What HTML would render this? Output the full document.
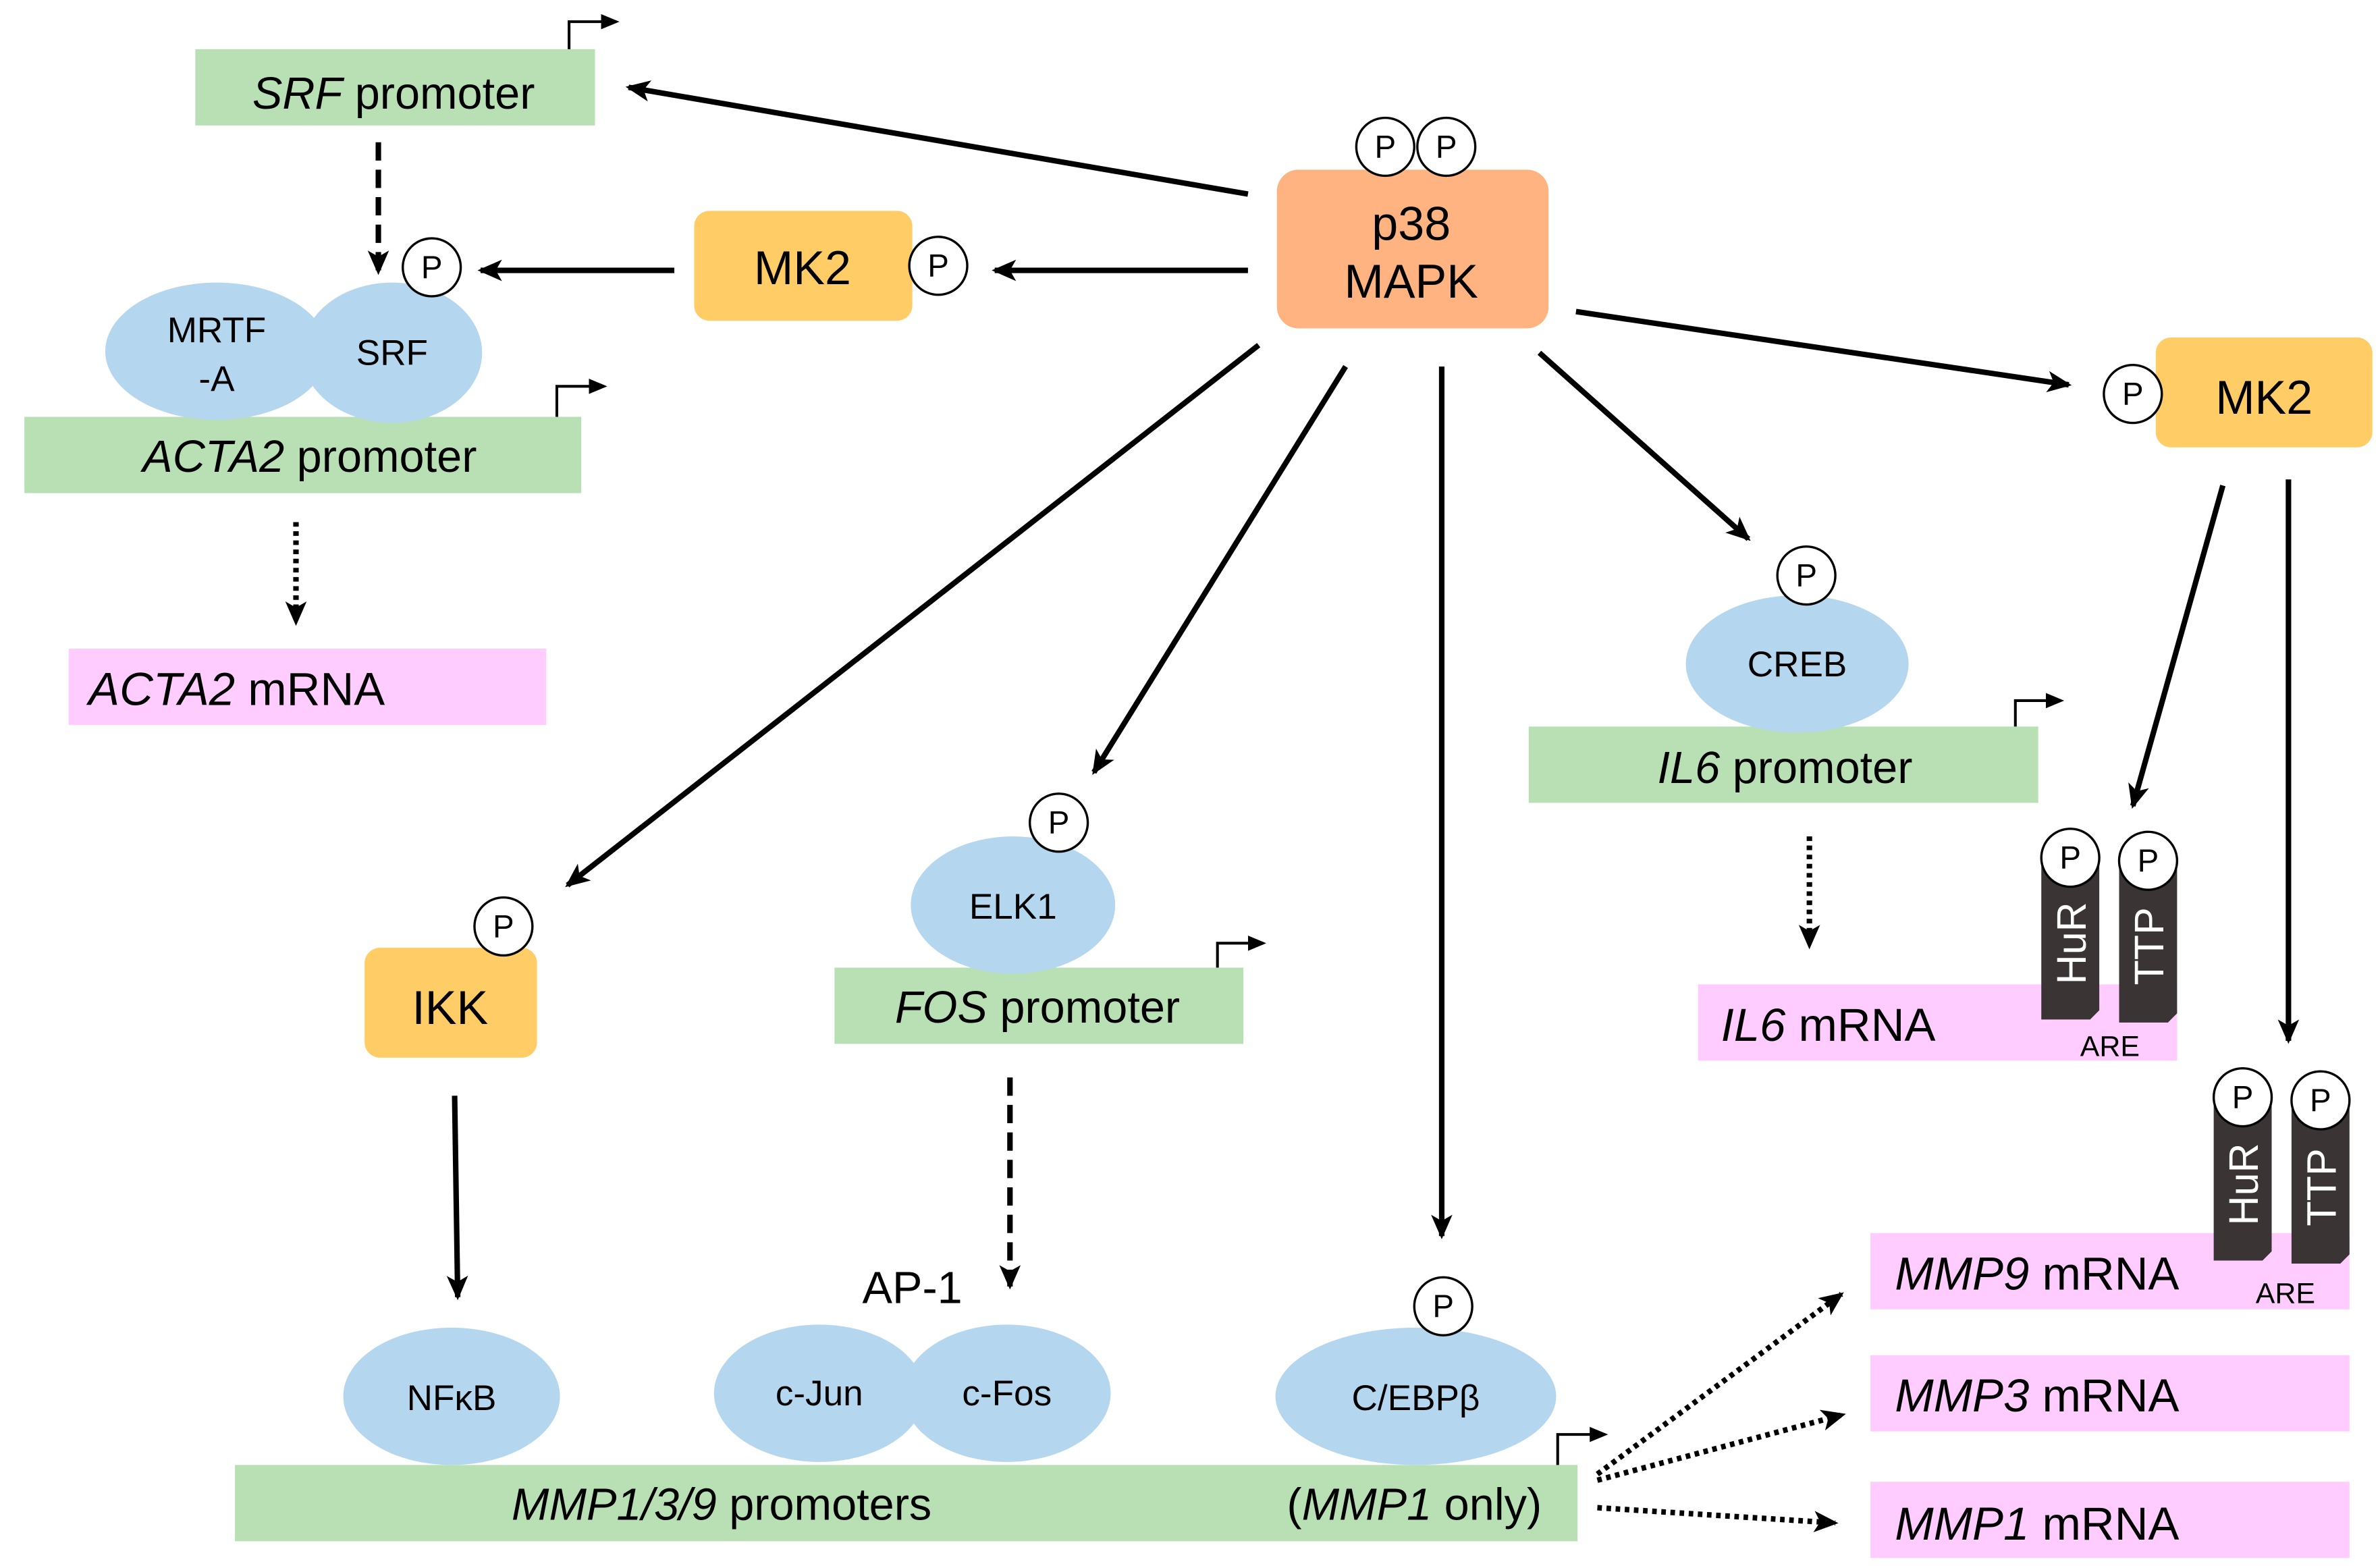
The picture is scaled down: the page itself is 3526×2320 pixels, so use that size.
<!DOCTYPE html>
<html><head><meta charset="utf-8"><style>html,body{margin:0;padding:0;background:#fff}svg{display:block}</style></head>
<body>
<svg width="3526" height="2320" viewBox="0 0 1560 1026" xmlns="http://www.w3.org/2000/svg" font-family="'Liberation Sans', sans-serif">
<defs>
<marker id="a" markerWidth="20" markerHeight="16" refX="14" refY="8" orient="auto" markerUnits="userSpaceOnUse"><path d="M0,1 L16,8 L0,15 L4,8 Z" fill="#000"/></marker>
<marker id="s" markerWidth="14" markerHeight="12" refX="10" refY="6" orient="auto" markerUnits="userSpaceOnUse"><path d="M0,1 L12,6 L0,11 Z" fill="#000"/></marker>
</defs>
<g fill="none" stroke="#000">
<g stroke-width="3.6" marker-end="url(#a)">
<line x1="818" y1="127" x2="412" y2="57"/>
<line x1="818" y1="177" x2="652" y2="177"/>
<line x1="442" y1="177" x2="315" y2="177"/>
<line x1="1033" y1="204" x2="1356" y2="252"/>
<line x1="1009" y1="231" x2="1146" y2="353"/>
<line x1="1457" y1="318" x2="1398" y2="528"/>
<line x1="1500" y1="314" x2="1500" y2="682"/>
<line x1="825" y1="226" x2="372" y2="580"/>
<line x1="298" y1="718" x2="300" y2="850"/>
<line x1="882" y1="240" x2="717" y2="506"/>
<line x1="945" y1="240" x2="945" y2="810"/>
</g>
<g stroke-width="3.6" stroke-dasharray="12,6" marker-end="url(#a)">
<line x1="248" y1="93" x2="248" y2="178"/>
<line x1="662" y1="706" x2="662" y2="843"/>
</g>
<g stroke-width="3.6" stroke-dasharray="3,3" marker-end="url(#a)">
<line x1="194" y1="342" x2="194" y2="408"/>
<line x1="1186" y1="548" x2="1186" y2="620"/>
<line x1="1047" y1="966" x2="1207" y2="848"/>
<line x1="1047" y1="970" x2="1208" y2="927"/>
<line x1="1047" y1="988" x2="1203" y2="998"/>
</g>
</g>
<g fill="#b9e0b5">
<rect x="128" y="32" width="262" height="50"/>
<rect x="16" y="273" width="365" height="50"/>
<rect x="1002" y="476" width="334" height="50"/>
<rect x="547" y="634" width="268" height="50"/>
<rect x="154" y="960" width="880" height="50"/>
</g>
<g fill="#ffccff">
<rect x="45" y="425" width="313" height="50"/>
<rect x="1113" y="645" width="314" height="50"/>
<rect x="1226" y="808" width="314" height="50"/>
<rect x="1226" y="888" width="314" height="50"/>
<rect x="1226" y="971" width="314" height="50"/>
</g>
<g fill="none" stroke="#000" stroke-width="1.8" marker-end="url(#s)">
<path d="M373,32 V14 H404"/>
<path d="M365,273 V253 H396"/>
<path d="M1321,476 V459 H1351"/>
<path d="M798,634 V618 H828"/>
<path d="M1021,960 V940 H1052"/>
</g>
<g fill="#ffcc66">
<rect x="455" y="138" width="143" height="72" rx="10"/>
<rect x="1413" y="221" width="142" height="72" rx="10"/>
<rect x="239" y="621" width="113" height="72" rx="10"/>
</g>
<rect x="837" y="111" width="178" height="104" rx="14" fill="#ffb380"/>
<g fill="#b4d7ef">
<ellipse cx="142" cy="230" rx="73" ry="45"/>
<ellipse cx="257" cy="231" rx="59" ry="46"/>
<ellipse cx="1178" cy="435" rx="73" ry="45"/>
<ellipse cx="664" cy="593" rx="67" ry="45"/>
<ellipse cx="296" cy="915" rx="71" ry="45"/>
<ellipse cx="537" cy="913" rx="69" ry="45"/>
<ellipse cx="660" cy="913" rx="68" ry="45"/>
<ellipse cx="928" cy="915" rx="92" ry="45"/>
</g>
<g fill="#3a3534">
<path d="M1338,562 H1376 V662 L1370,668 H1338 Z"/>
<path d="M1389,565 H1427 V664 L1421,670 H1389 Z"/>
<path d="M1451,720 H1489 V820 L1483,826 H1451 Z"/>
<path d="M1502,723 H1540 V822 L1534,828 H1502 Z"/>
</g>
<g fill="#fff" font-size="27">
<text transform="translate(1367,618) rotate(-90)" text-anchor="middle">HuR</text>
<text transform="translate(1418,620) rotate(-90)" text-anchor="middle">TTP</text>
<text transform="translate(1480,776) rotate(-90)" text-anchor="middle">HuR</text>
<text transform="translate(1531,778) rotate(-90)" text-anchor="middle">TTP</text>
</g>
<g fill="#fff" stroke="#000" stroke-width="1.5">
<circle cx="283" cy="175" r="19"/>
<circle cx="615" cy="174" r="19"/>
<circle cx="908" cy="96" r="19"/>
<circle cx="948" cy="96" r="19"/>
<circle cx="1398" cy="258" r="19"/>
<circle cx="1184" cy="377" r="19"/>
<circle cx="1357" cy="562" r="19"/>
<circle cx="1408" cy="564" r="19"/>
<circle cx="1470" cy="719" r="19"/>
<circle cx="1521" cy="721" r="19"/>
<circle cx="330" cy="607" r="19"/>
<circle cx="694" cy="539" r="19"/>
<circle cx="946" cy="856" r="19"/>
</g>
<g font-size="21" text-anchor="middle">
<text x="283" y="182">P</text><text x="615" y="181">P</text>
<text x="908" y="103">P</text><text x="948" y="103">P</text>
<text x="1398" y="265">P</text><text x="1184" y="384">P</text>
<text x="1357" y="569">P</text><text x="1408" y="571">P</text>
<text x="1470" y="726">P</text><text x="1521" y="728">P</text>
<text x="330" y="614">P</text><text x="694" y="546">P</text>
<text x="946" y="863">P</text>
</g>
<g font-size="29.5" text-anchor="middle">
<text x="258" y="71"><tspan font-style="italic">SRF</tspan> promoter</text>
<text x="203" y="309"><tspan font-style="italic">ACTA2</tspan> promoter</text>
<text x="1170" y="513"><tspan font-style="italic">IL6</tspan> promoter</text>
<text x="680" y="670"><tspan font-style="italic">FOS</tspan> promoter</text>
<text x="473" y="996"><tspan font-style="italic">MMP1/3/9</tspan> promoters</text>
<text x="927" y="996">(<tspan font-style="italic">MMP1</tspan> only)</text>
<text x="598" y="854">AP-1</text>
</g>
<g font-size="30.5" text-anchor="start">
<text x="58" y="462"><tspan font-style="italic">ACTA2</tspan> mRNA</text>
<text x="1128" y="682"><tspan font-style="italic">IL6</tspan> mRNA</text>
<text x="1242" y="845"><tspan font-style="italic">MMP9</tspan> mRNA</text>
<text x="1242" y="925"><tspan font-style="italic">MMP3</tspan> mRNA</text>
<text x="1242" y="1009"><tspan font-style="italic">MMP1</tspan> mRNA</text>
</g>
<g font-size="31" text-anchor="middle">
<text x="526" y="186">MK2</text>
<text x="1484" y="271">MK2</text>
<text x="295" y="671">IKK</text>
<text x="925" y="157">p38</text>
<text x="925" y="195">MAPK</text>
</g>
<g font-size="23.5" text-anchor="middle">
<text x="142" y="224">MRTF</text><text x="142" y="256">-A</text>
<text x="257" y="239">SRF</text>
<text x="1178" y="443">CREB</text>
<text x="664" y="602">ELK1</text>
<text x="296" y="924">NFκB</text>
<text x="537" y="921">c-Jun</text>
<text x="660" y="921">c-Fos</text>
<text x="928" y="924">C/EBPβ</text>
</g>
<g font-size="19" text-anchor="middle">
<text x="1383" y="692">ARE</text>
<text x="1498" y="854">ARE</text>
</g>
</svg>
</body></html>
